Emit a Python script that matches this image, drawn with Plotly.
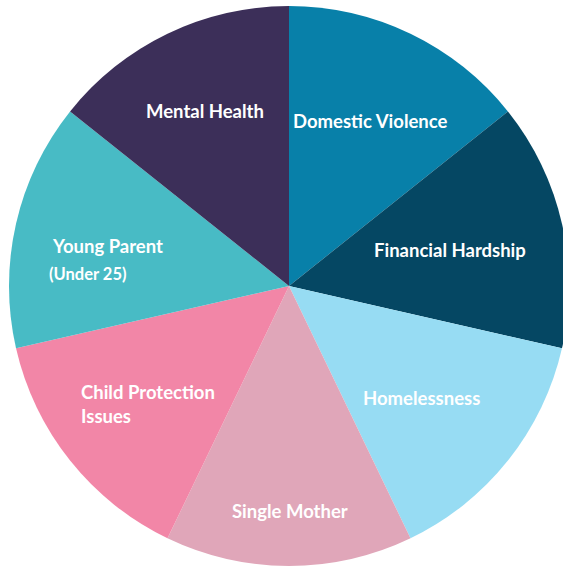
import plotly.graph_objects as go

# ---- data ----
categories = ["Domestic Violence", "Financial Hardship", "Homelessness", "Single Mother",
              "Child Protection Issues", "Young Parent (Under 25)", "Mental Health"]
values = [1, 1, 1, 1, 1, 1, 1]
colors = ["#0880A9", "#054763", "#97DCF3", "#E0A6B9", "#F286A7", "#48BBC5", "#3C2F59"]

W, H = 570, 567

fig = go.Figure(go.Pie(
    labels=categories,
    values=values,
    marker=dict(colors=colors, line=dict(width=0)),
    sort=False,
    direction="clockwise",
    rotation=0,
    textinfo="none",
    hoverinfo="label",
    showlegend=False,
    domain=dict(x=[9 / W, 569 / W], y=[1 - 566 / H, 1 - 6 / H]),
))

FONT = "Comic Sans MS, Lato, Noto Sans, sans-serif"

def px(x, y):
    return x / W, 1 - y / H

# label placements (pixel centres / left edges)
placements = [
    ("Domestic Violence", 370, 121, "center", 18.5),
    ("Financial Hardship", 450, 250, "center", 18.5),
    ("Homelessness", 421, 398, "center", 18.5),
    ("Single Mother", 290, 511, "center", 18.5),
    ("Child Protection<br>Issues", 79, 404, "left", 18.5),
    ("Young Parent", 50, 246, "left", 18.5),
    ("(Under 25)", 47, 274, "left", 16.5),
    ("Mental Health", 205, 111, "center", 18.5),
]
anns = []
for text, x, y, anchor, size in placements:
    ax, ay = px(x, y)
    anns.append(dict(
        text="<b>" + text + "</b>", x=ax, y=ay, xref="paper", yref="paper",
        xanchor=anchor, yanchor="middle", align="left", showarrow=False,
        font=dict(family=FONT, size=size, color="white"),
    ))

fig.update_layout(
    width=W, height=H,
    margin=dict(l=0, r=0, t=0, b=0),
    paper_bgcolor="white",
    plot_bgcolor="white",
    annotations=anns,
)

fig.write_html(
    "out.html",
    config={"displayModeBar": False},
    post_script="document.body.style.margin='0';document.body.style.overflow='hidden';"
                "document.documentElement.style.overflow='hidden';",
)
